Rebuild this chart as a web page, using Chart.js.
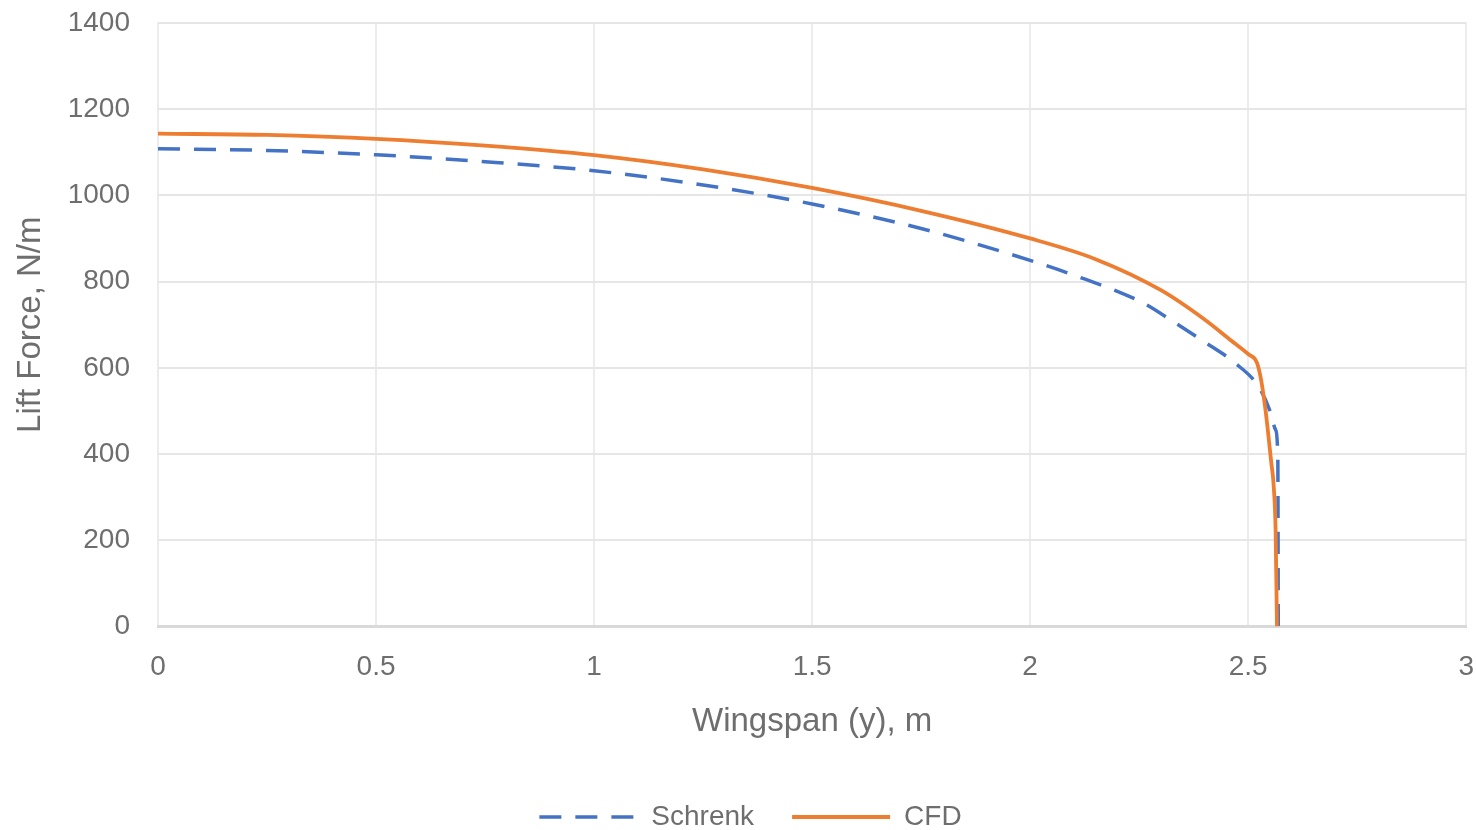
<!DOCTYPE html>
<html>
<head>
<meta charset="utf-8">
<script src="https://cdn.jsdelivr.net/npm/chart.js@4"></script>
<style>
  html, body { margin: 0; padding: 0; background: #fff; overflow: hidden; }
  #wrap { width: 1501px; height: 863px; margin-top: -22px; position: relative; }
</style>
</head>
<body>
<div id="wrap"><canvas id="chart"></canvas></div>
<script>
// spanwise positions (m) and lift per unit span (N/m)
const schrenkSpan = [0, 0.25, 0.5, 0.75, 1.0, 1.25, 1.5, 1.75, 1.94, 2.1, 2.26, 2.33, 2.4, 2.47, 2.524, 2.55, 2.563, 2.568, 2.569];
const schrenkLift = [1108, 1104, 1094, 1078, 1057, 1024, 980, 923, 868, 815, 750, 706, 660, 611, 556, 500, 456, 390, 0];

const cfdSpan = [0, 0.25, 0.5, 0.75, 1.0, 1.25, 1.5, 1.75, 2.0, 2.15, 2.3, 2.4, 2.46, 2.5, 2.52, 2.53, 2.54, 2.545, 2.553, 2.558, 2.563, 2.566];
const cfdLift = [1143, 1140, 1131, 1115, 1093, 1060, 1017, 964, 900, 852, 780, 712, 664, 632, 612, 570, 500, 456, 380, 333, 218, 0];

const xTicks = [0, 0.5, 1, 1.5, 2, 2.5, 3];
const yTicks = [0, 200, 400, 600, 800, 1000, 1200, 1400];

const toPoints = (xs, ys) => xs.map((x, i) => ({ x: x, y: ys[i] }));

const textColor = '#6e6e6e';
const fontFamily = '"Liberation Sans", Arial, sans-serif';

const ctx = document.getElementById('chart').getContext('2d');
new Chart(ctx, {
  type: 'line',
  data: {
    datasets: [{
      label: 'Schrenk',
      data: toPoints(schrenkSpan, schrenkLift),
      borderColor: '#4472C4',
      backgroundColor: '#4472C4',
      borderWidth: 3.5,
      borderDash: [22, 14],
      pointRadius: 0,
      cubicInterpolationMode: 'monotone',
      order: 2,
    }, {
      label: 'CFD',
      data: toPoints(cfdSpan, cfdLift),
      borderColor: '#ED7D31',
      backgroundColor: '#ED7D31',
      borderWidth: 3.8,
      pointRadius: 0,
      cubicInterpolationMode: 'monotone',
      order: 1,
    }],
  },
  options: {
    responsive: true,
    maintainAspectRatio: false,
    animation: false,
    plugins: {
      legend: {
        position: 'bottom',
        labels: {
          usePointStyle: true,
          pointStyle: 'line',
          pointStyleWidth: 98,
          boxWidth: 98,
          color: textColor,
          font: { family: fontFamily, size: 28 },
          padding: 38,
          generateLabels: (chart) => {
            const items = Chart.defaults.plugins.legend.labels.generateLabels(chart);
            items.forEach((item) => {
              const ds = chart.data.datasets[item.datasetIndex];
              item.lineDash = ds.borderDash || [];
              item.lineWidth = ds.borderWidth;
              item.strokeStyle = ds.borderColor;
            });
            return items.sort((a, b) => a.datasetIndex - b.datasetIndex);
          },
        },
      },
      tooltip: { enabled: false },
    },
    scales: {
      x: {
        type: 'linear',
        min: 0,
        max: 3,
        afterBuildTicks: (axis) => { axis.ticks = xTicks.map((v) => ({ value: v })); },
        ticks: {
          color: textColor,
          font: { family: fontFamily, size: 28, lineHeight: 1 },
          padding: 27,
          maxRotation: 0,
          callback: (v) => String(v),
        },
        grid: { color: '#ececec', lineWidth: 2, drawTicks: false },
        border: { color: '#d9d9d9', width: 3 },
        title: {
          display: true,
          text: 'Wingspan (y), m',
          color: textColor,
          font: { family: fontFamily, size: 33, lineHeight: 0.8 },
          padding: { top: 0, bottom: 30 },
        },
      },
      y: {
        min: 0,
        max: 1400,
        afterBuildTicks: (axis) => { axis.ticks = yTicks.map((v) => ({ value: v })); },
        afterFit: (axis) => { axis.width = 158; },
        ticks: {
          color: textColor,
          font: { family: fontFamily, size: 28 },
          padding: 28,
          callback: (v) => String(v),
        },
        grid: { color: '#e6e6e6', lineWidth: 2, drawTicks: false },
        border: { display: false },
        title: {
          display: true,
          text: 'Lift Force, N/m',
          color: textColor,
          font: { family: fontFamily, size: 33, lineHeight: 1 },
          padding: { top: 14, bottom: 4 },
        },
      },
    },
  },
});
</script>
</body>
</html>
